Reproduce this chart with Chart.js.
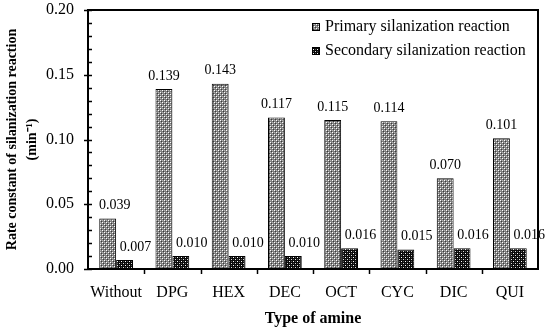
<!DOCTYPE html>
<html>
<head>
<meta charset="utf-8">
<script src="https://cdn.jsdelivr.net/npm/chart.js"></script>
<style>
  html, body { margin: 0; padding: 0; background: #fff; }
  #chart { display: block; }
</style>
</head>
<body>
<canvas id="chart" width="550" height="332"></canvas>
<script>
// Данные графика
var amines = ['Without', 'DPG', 'HEX', 'DEC', 'OCT', 'CYC', 'DIC', 'QUI'];
var primaryRates = [0.039, 0.139, 0.143, 0.117, 0.115, 0.114, 0.070, 0.101];
var secondaryRates = [0.007, 0.010, 0.010, 0.010, 0.016, 0.015, 0.016, 0.016];
var yTicks = [0, 0.05, 0.10, 0.15, 0.20];

var serif = '"Liberation Serif", "Times New Roman", serif';

// Узор для столбцов (точечная заливка)
function makePattern(bg, dots) {
    var c = document.createElement('canvas');
    c.width = 4; c.height = 4;
    var g = c.getContext('2d');
    g.fillStyle = bg;
    g.fillRect(0, 0, 4, 4);
    dots.forEach(function(d) {
        g.fillStyle = d[2];
        g.fillRect(d[0], d[1], 1, 1);
    });
    return g.createPattern(c, 'repeat');
}
var ctx = document.getElementById('chart').getContext('2d');
var primaryFill = makePattern('#7e7e7e', [[0, 0, '#fff'], [2, 2, '#fff'], [1, 1, '#3a3a3a'], [3, 3, '#3a3a3a'], [2, 0, '#b5b5b5'], [0, 2, '#b5b5b5']]);
var secondaryFill = makePattern('#0a0a0a', [[1, 1, '#fff'], [3, 3, '#ddd'], [3, 1, '#555'], [1, 3, '#555']]);

// сдвиг подписей вправо для второго ряда
var labelShift = [0, 11];

// Рамка, засечки, подписи значений и легенда
var decorPlugin = {
    id: 'decor',
    afterDraw: function(chart) {
        var c = chart.ctx;
        var a = chart.chartArea;
        var y = chart.scales.y;
        var x = chart.scales.x;
        c.save();
        c.strokeStyle = '#000';
        c.lineWidth = 2;
        c.strokeRect(a.left, a.top, a.right - a.left, a.bottom - a.top);

        // засечки оси Y
        c.lineWidth = 1.5;
        for (var i = 0; i <= 20; i++) {
            var py = Math.round(y.getPixelForValue(i / 100)) + 0.5;
            c.beginPath();
            if (i % 5 === 0) {
                c.moveTo(a.left - 4, py); c.lineTo(a.left + 4, py);
            } else {
                c.moveTo(a.left, py); c.lineTo(a.left + 4, py);
            }
            c.stroke();
        }
        // засечки оси X
        for (var k = 0; k < amines.length - 1; k++) {
            var px = Math.round(x.getPixelForValue(k + 0.5)) + 0.5;
            c.beginPath();
            c.moveTo(px, a.bottom); c.lineTo(px, a.bottom + 5);
            c.stroke();
        }

        // подписи значений
        c.fillStyle = '#000';
        c.font = '14px ' + serif;
        c.textAlign = 'center';
        c.textBaseline = 'bottom';
        chart.data.datasets.forEach(function(ds, di) {
            chart.getDatasetMeta(di).data.forEach(function(bar, j) {
                var txt = ds.data[j].toFixed(3);
                var w = c.measureText(txt).width;
                var lxp = Math.max(bar.x + labelShift[di], a.left + 11 + w / 2);
                c.fillText(txt, lxp, bar.y - 6);
            });
        });

        // легенда
        c.font = '16px ' + serif;
        c.textAlign = 'left';
        c.textBaseline = 'middle';
        var lx = 312, ly = [27, 51];
        chart.data.datasets.forEach(function(ds, di) {
            c.fillStyle = ds.backgroundColor;
            c.fillRect(lx, ly[di] - 4, 8, 8);
            c.lineWidth = 1;
            c.strokeRect(lx + 0.5, ly[di] - 3.5, 7, 7);
            c.fillStyle = '#000';
            c.fillText(ds.label, lx + 13, ly[di]);
        });
        c.restore();
    }
};

var chart = new Chart(ctx, {
    type: 'bar',
    data: {
        labels: amines,
        datasets: [{
            label: 'Primary silanization reaction',
            data: primaryRates,
            backgroundColor: primaryFill,
            borderColor: '#000',
            borderWidth: 1,
            borderSkipped: false
        }, {
            label: 'Secondary silanization reaction',
            data: secondaryRates,
            backgroundColor: secondaryFill,
            borderColor: '#000',
            borderWidth: 1,
            borderSkipped: false
        }]
    },
    options: {
        responsive: false,
        animation: false,
        layout: { padding: { top: 10, right: 12, left: 0, bottom: 0 } },
        plugins: {
            legend: { display: false },
            tooltip: { enabled: false }
        },
        datasets: {
            bar: { categoryPercentage: 0.6, barPercentage: 1.0 }
        },
        scales: {
            x: {
                grid: { display: false, drawTicks: false },
                border: { display: false },
                ticks: { color: '#000', font: { family: serif, size: 16 }, padding: 14, maxRotation: 0 },
                title: {
                    display: true,
                    text: 'Type of amine',
                    color: '#000',
                    font: { family: serif, size: 16, weight: 'bold' },
                    padding: { top: 4 }
                },
                afterFit: function(s) {
                    s.height = 63;
                    s.paddingLeft = 0;
                    s.paddingRight = 0;
                }
            },
            y: {
                min: 0,
                max: 0.2,
                grid: { display: false, drawTicks: false },
                border: { display: false },
                afterBuildTicks: function(s) {
                    s.ticks = yTicks.map(function(v) { return { value: v }; });
                },
                ticks: {
                    color: '#000',
                    font: { family: serif, size: 16 },
                    padding: 14,
                    callback: function(v) { return v.toFixed(2); }
                },
                title: {
                    display: true,
                    text: ['Rate constant of silanization reaction', '(min\u207B\u00B9)'],
                    color: '#000',
                    font: { family: serif, size: 14, weight: 'bold', lineHeight: 1.4 },
                    padding: { top: 3, bottom: 0 }
                },
                afterFit: function(s) {
                    s.width = 88;
                    s.paddingTop = 0;
                    s.paddingBottom = 0;
                }
            }
        }
    },
    plugins: [decorPlugin]
});
</script>
</body>
</html>
